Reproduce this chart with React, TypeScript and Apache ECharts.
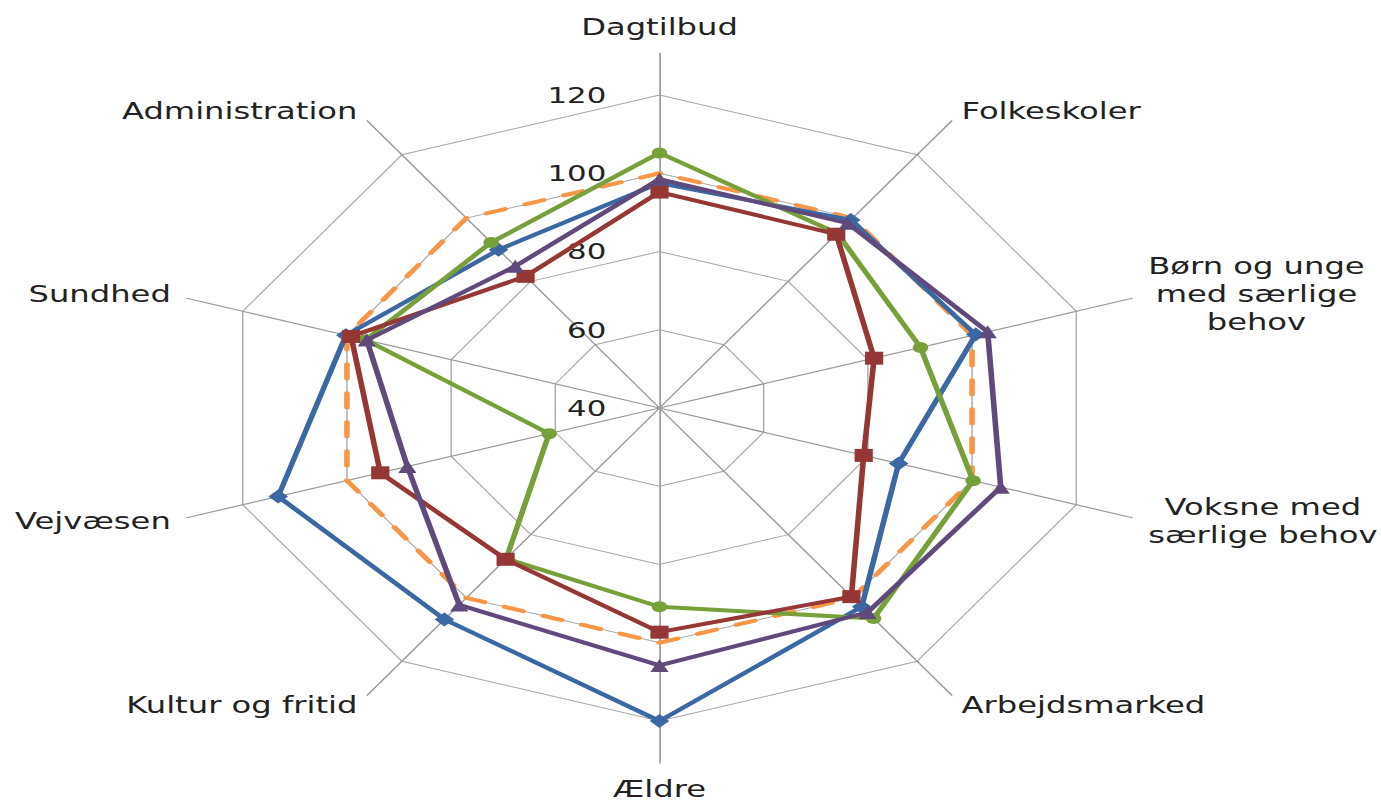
import React, { useEffect, useRef } from "react";
import * as echarts from "echarts";

// Categories in clockwise order starting at the top
const categories = [
  "Dagtilbud",
  "Folkeskoler",
  "Børn og unge\nmed særlige\nbehov",
  "Voksne med\nsærlige behov",
  "Arbejdsmarked",
  "Ældre",
  "Kultur og fritid",
  "Vejvæsen",
  "Sundhed",
  "Administration",
];

const tickValues = [40, 60, 80, 100, 120];

const seriesNames = ["Serie 1", "Serie 2", "Serie 3", "Serie 4", "Landsgennemsnit"];
const blueValues = [97.5, 99.4, 100.7, 85.9, 102.8, 120, 106.8, 113.2, 100.2, 90];
const redValues = [95.2, 94.9, 81.2, 79.2, 99.6, 97.3, 87.8, 93.6, 99.2, 81.6];
const greenValues = [105.2, 95.2, 90.1, 100.2, 106.5, 90.8, 87.6, 61.2, 96.4, 92.3];
const purpleValues = [98.5, 98.4, 103, 105.5, 104.6, 105.8, 102.2, 88.4, 96.2, 84.8];
const orangeValues = [100, 100, 100, 100, 100, 100, 100, 100, 100, 100];

const SX = 1.4;
const W = 1381;
const H = 806;

export default function App() {
  const ref = useRef<HTMLDivElement>(null);

  useEffect(() => {
    if (!ref.current) return;
    const chart = echarts.init(ref.current, null, { renderer: "svg" });

    // ECharts lays indicators out counter-clockwise; reorder to get clockwise.
    const order = categories.map((_, i) => (i === 0 ? 0 : categories.length - i));
    const reorder = (arr: number[]) => order.map((i) => arr[i]);

    const cx = 659.5 / SX;
    const cy = 408;
    const font = "DejaVu Sans";
    const textColor = "#222";
    const minV = tickValues[0];
    const maxV = tickValues[tickValues.length - 1];

    const option: any = {
      animation: false,
      backgroundColor: "#ffffff",
      radar: [
        {
          center: [cx, cy],
          radius: 355,
          startAngle: 90,
          shape: "polygon",
          splitNumber: 4,
          nameGap: 12,
          indicator: order.map((i) => ({ name: categories[i], min: 0, max: 1 })),
          axisName: {
            show: true,
            color: textColor,
            fontFamily: font,
            fontSize: 23,
            lineHeight: 28,
            formatter: (name: string) =>
              name
                .split("\n")
                .map((l) => "{c|" + l + "}")
                .join("\n"),
            rich: {
              c: {
                align: "center",
                color: textColor,
                fontFamily: font,
                fontSize: 23,
                lineHeight: 28,
              },
            },
          },
          axisLine: { show: true, lineStyle: { color: "#9a9a9a", width: 1.2 } },
          axisTick: { show: false },
          axisLabel: { show: false },
          splitLine: { show: false },
          splitArea: { show: false },
          silent: true,
        },
        {
          center: [cx, cy],
          radius: 313,
          startAngle: 90,
          shape: "polygon",
          splitNumber: tickValues.length - 1,
          axisName: { show: false },
          indicator: order.map((i, k) => ({
            name: "",
            min: minV,
            max: maxV,
            ...(k === 0
              ? {
                  axisLabel: {
                    show: true,
                    color: textColor,
                    fontFamily: font,
                    fontSize: 22,
                    margin: 38,
                  },
                }
              : {}),
          })),
          axisLine: { show: false },
          axisTick: { show: false },
          axisLabel: { show: false },
          splitLine: { show: true, lineStyle: { color: "#a8a8a8", width: 1 } },
          splitArea: { show: false },
        },
      ],
      series: [
        {
          type: "radar",
          radarIndex: 1,
          name: seriesNames[4],
          symbol: "none",
          lineStyle: { color: "#f79646", width: 4, type: [14, 15], cap: "round" },
          data: [{ value: reorder(orangeValues), name: seriesNames[4] }],
          z: 2,
        },
        {
          type: "radar",
          radarIndex: 1,
          name: seriesNames[0],
          symbol: "diamond",
          symbolSize: 14,
          itemStyle: { color: "#3b67a3" },
          lineStyle: { color: "#3b67a3", width: 4 },
          data: [{ value: reorder(blueValues), name: seriesNames[0] }],
          z: 3,
        },
        {
          type: "radar",
          radarIndex: 1,
          name: seriesNames[2],
          symbol: "circle",
          symbolSize: 11,
          itemStyle: { color: "#77a03a" },
          lineStyle: { color: "#77a03a", width: 4 },
          data: [{ value: reorder(greenValues), name: seriesNames[2] }],
          z: 4,
        },
        {
          type: "radar",
          radarIndex: 1,
          name: seriesNames[1],
          symbol: "rect",
          symbolSize: 13,
          itemStyle: { color: "#953735" },
          lineStyle: { color: "#953735", width: 4 },
          data: [{ value: reorder(redValues), name: seriesNames[1] }],
          z: 5,
        },
        {
          type: "radar",
          radarIndex: 1,
          name: seriesNames[3],
          symbol: "triangle",
          symbolSize: 13,
          itemStyle: { color: "#604a7b" },
          lineStyle: { color: "#604a7b", width: 4 },
          data: [{ value: reorder(purpleValues), name: seriesNames[3] }],
          z: 6,
        },
      ],
    };

    chart.setOption(option);
    return () => chart.dispose();
  }, []);

  return (
    <div
      style={{
        position: "absolute",
        left: 0,
        top: 0,
        width: W,
        height: H,
        overflow: "hidden",
        background: "#fff",
      }}
    >
      <div
        ref={ref}
        style={{
          width: W / SX,
          height: H,
          transform: `scaleX(${SX})`,
          transformOrigin: "0 0",
        }}
      />
    </div>
  );
}
